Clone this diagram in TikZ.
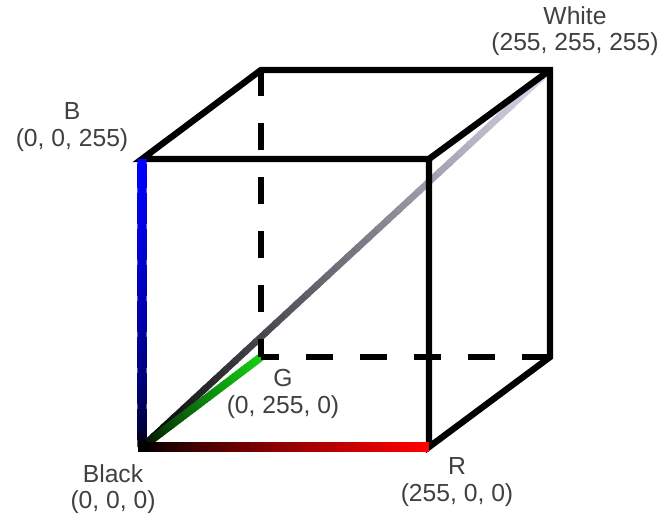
\documentclass[tikz,border=0pt]{standalone}
\usepackage{fontspec}
\setmainfont{Liberation Sans}
\usetikzlibrary{calc}
\definecolor{gcol}{RGB}{20,205,20}
\definecolor{tcol}{RGB}{215,215,235}
\tikzset{
  edge/.style={line width=4.8pt, line cap=butt, line join=miter},
  hidden/.style={line width=4.8pt, dash pattern=on 20pt off 20.5pt, dash phase=6.75pt},
  lbl/.style={align=center, text=black!75, inner sep=0pt,
              font=\fontsize{18.5}{20}\selectfont},
}
% colour ramp along an edge: from, to, end colour, width, exponent
\newcommand\gradedge[5]{%
  \foreach \i in {0,...,39}{
    \pgfmathsetmacro\pc{100*(\i/39)^#5}
    \draw[line width=#4, color=#3!\pc!black]
      ($(#1)!\i/40!(#2)$) -- ($(#1)!{min((\i+1.3)/40,1)}!(#2)$);
  }}
\begin{document}
\begin{tikzpicture}[x=0.75pt, y=0.75pt]
\useasboundingbox (0,0) rectangle (665,519);

% corners
\coordinate (black) at (142,72);
\coordinate (red)   at (429,72);
\coordinate (ftr)   at (429,360);
\coordinate (blue)  at (142,360);
\coordinate (green) at (261,162);
\coordinate (bbr)   at (550,162);
\coordinate (white) at (550,449);
\coordinate (btl)   at (261,449);

% grey axis
\gradedge{black}{white}{tcol}{5pt}{0.9}
\gradedge{black}{green}{gcol}{6pt}{0.7}

% hidden edges
\draw[hidden] (green) -- (btl);
\draw[hidden] (green) -- (bbr);

% visible edges
\draw[edge] (red) -- (ftr) -- (blue) -- (btl) -- (white) -- (bbr) -- cycle;
\draw[edge] (ftr) -- (white);

% primaries
\gradedge{black}{blue}{blue}{7pt}{0.5}
\gradedge{black}{red}{red}{7pt}{0.8}
\fill[black] ($(black)+(-4,-5)$) rectangle ($(black)+(6,4)$);

\node[lbl] (lblue)  at (72,392)  {B\\(0, 0, 255)};
\node[lbl] (lwhite) at (575,488) {White\\(255, 255, 255)};
\node[lbl] (lgreen) at (283,125) {G\\(0, 255, 0)};
\node[lbl] (lblack) at (113,30)  {Black\\(0, 0, 0)};
\node[lbl] (lred)   at (457,37)  {R\\(255, 0, 0)};

\end{tikzpicture}
\end{document}
